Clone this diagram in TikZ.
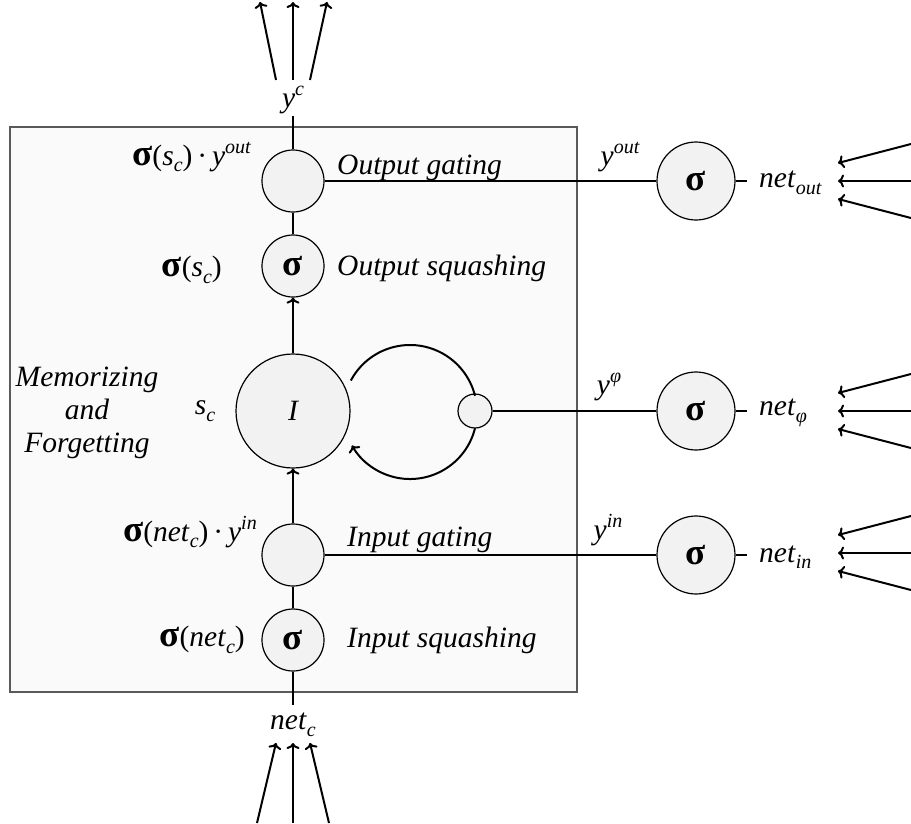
\documentclass[tikz,border=0pt]{standalone}
\usepackage{fontspec}
\setmainfont{Liberation Serif}
\usetikzlibrary{arrows.meta}
\definecolor{cfill}{HTML}{F2F2F2}
\definecolor{boxfill}{HTML}{FAFAFA}
\definecolor{boxgray}{HTML}{5A5A5A}
\newcommand\mysp[1]{\raisebox{0.42em}{\fontsize{20}{22}\selectfont\itshape #1}}
\newcommand\mysb[1]{\raisebox{-0.22em}{\fontsize{20}{22}\selectfont\itshape #1}}
\newcommand\mysig{{\fontsize{37}{37}\selectfont\bfseries σ}}
\begin{document}
\begin{tikzpicture}[x=1pt,y=-1pt,
  every node/.style={font=\fontsize{29.5}{33}\selectfont, inner sep=0pt},
  wire/.style={line width=2pt},
  arr/.style={line width=2pt,-{To[length=6pt,width=13pt]}},
  unit/.style={circle,draw,line width=1.2pt,fill=cfill,minimum size=62pt},
  bigunit/.style={unit,minimum size=78pt},
  lbl/.style={font=\fontsize{29.5}{33}\selectfont\itshape},
]
\useasboundingbox (0,0) rectangle (911,823);
% cell box
\node[draw=boxgray,line width=1.3pt,fill=boxfill,minimum width=567pt,minimum height=565pt] (cell) at (293.5,409.5) {};

% units
\node[unit] (og) at (293,181) {};
\node[unit] (os) at (293,266) {\mysig};
\node[unit,minimum size=114pt] (I) at (293,411) {\itshape I};
\node[unit] (ig) at (293,555) {};
\node[unit] (is) at (293,640) {\mysig};
\node[unit,minimum size=34pt] (sg) at (475,411) {};
\node[bigunit] (so) at (696,181) {\mysig};
\node[bigunit] (sf) at (696,411) {\mysig};
\node[bigunit] (si) at (696,555) {\mysig};

% labels
\node (yc) at (293,100) {\textit{y}\mysp{c}};
\node (netc) at (293,725) {\textit{net}\mysb{c}};
\node[anchor=east] (lgo) at (251,157) {\mysig(\textit{s}\mysb{c})\,·\,\textit{y}\mysp{out}};
\node[anchor=east] (lso) at (222,270) {\mysig(\textit{s}\mysb{c})};
\node[anchor=east] (lgi) at (257,532) {\mysig(\textit{net}\mysb{c})\,·\,\textit{y}\mysp{in}};
\node[anchor=east] (lsi) at (245,640) {\mysig(\textit{net}\mysb{c})};
\node (lsc) at (205,411) {\textit{s}\mysb{c}};
\node[lbl,align=center] (mem) at (87,413) {Memorizing\\and\\Forgetting};
\node[lbl,anchor=west] (tog) at (337,168) {Output gating};
\node[lbl,anchor=west] (tos) at (337,268) {Output squashing};
\node[lbl,anchor=west] (tig) at (347,540) {Input gating};
\node[lbl,anchor=west] (tis) at (347,640) {Input squashing};
\node (lyo) at (620,157) {\textit{y}\mysp{out}};
\node (lyf) at (609,387) {\textit{y}\mysp{φ}};
\node (lyi) at (608,530) {\textit{y}\mysp{in}};
\node[anchor=west] (nout) at (759,183) {\textit{net}\mysb{out}};
\node[anchor=west] (nphi) at (759,413) {\textit{net}\mysb{φ}};
\node[anchor=west] (nin) at (759,557) {\textit{net}\mysb{in}};

% vertical chain
\coordinate (ycb) at (293,116);
\coordinate (nct) at (293,705);
\draw[wire] (ycb) -- (og);
\draw[wire] (og) -- (os);
\draw[arr] (I) -- (os);
\draw[arr] (ig) -- (I);
\draw[wire] (is) -- (ig);
\draw[wire] (is) -- (nct);

% horizontal gate lines
\draw[wire] (og.east) -- (so.west);
\draw[wire] (sg.east) -- (sf.west);
\draw[wire] (ig.east) -- (si.west);
\draw[wire] (so.east) -- ++(11,0);
\draw[wire] (sf.east) -- ++(11,0);
\draw[wire] (si.east) -- ++(11,0);

% self loop
\coordinate (lc) at (410,412);
\draw[wire] (lc) ++(208:67) arc[start angle=208,end angle=346,radius=67];
\draw[arr] (lc) ++(14:67) arc[start angle=14,end angle=150,radius=67];

% top output arrows
\coordinate (ta1) at (276,80); \coordinate (tb1) at (260,2);
\coordinate (ta2) at (293,80); \coordinate (tb2) at (293,2);
\coordinate (ta3) at (310,80); \coordinate (tb3) at (327,2);
\foreach \k in {1,2,3}{\draw[arr] (ta\k) -- (tb\k);}

% bottom input arrows
\coordinate (ba1) at (257,823); \coordinate (bb1) at (276,743);
\coordinate (ba2) at (293,823); \coordinate (bb2) at (293,743);
\coordinate (ba3) at (329,823); \coordinate (bb3) at (310,743);
\foreach \k in {1,2,3}{\draw[arr] (ba\k) -- (bb\k);}

% right input arrows
\foreach \n/\yy in {o/181,f/411,i/553}{
  \coordinate (ra1\n) at (911,\yy-37); \coordinate (rb1\n) at (838,\yy-18);
  \coordinate (ra2\n) at (911,\yy);    \coordinate (rb2\n) at (838,\yy);
  \coordinate (ra3\n) at (911,\yy+37); \coordinate (rb3\n) at (838,\yy+18);
  \foreach \k in {1,2,3}{\draw[arr] (ra\k\n) -- (rb\k\n);}
}
\end{tikzpicture}
\end{document}
